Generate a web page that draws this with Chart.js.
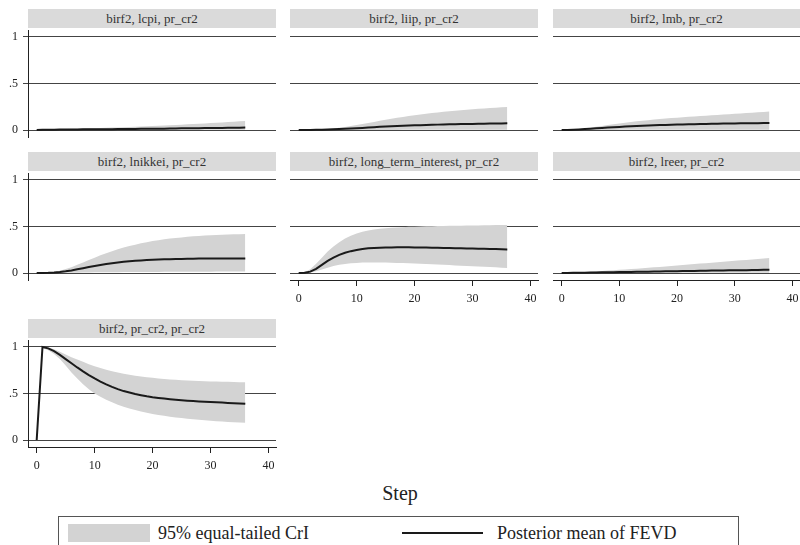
<!DOCTYPE html>
<html>
<head>
<meta charset="utf-8">
<script src="https://cdn.jsdelivr.net/npm/chart.js@4/dist/chart.umd.min.js"></script>
<style>
html,body{margin:0;padding:0;background:#fff;overflow:hidden;width:800px;height:545px}
#wrap{position:relative;width:800px;height:545px;overflow:hidden}
.hdr{position:absolute;background:#dadada;font-family:"Liberation Serif",serif;font-size:13px;color:#333;text-align:center;line-height:19px;height:19px;white-space:nowrap}
canvas{position:absolute}
#xtitle{position:absolute;left:0;width:800px;top:481px;text-align:center;font-family:"Liberation Serif",serif;font-size:20px;color:#222;line-height:24px}
#legend{position:absolute;left:58px;top:516px;width:681px;height:40px;border:1px solid #555;box-sizing:border-box}
.sw{position:absolute;left:9px;top:7px;width:82px;height:18px;background:#d3d3d3}
.ln{position:absolute;left:343px;top:15px;width:81px;height:2px;background:#1a1a1a}
.lt{position:absolute;top:5px;font-family:"Liberation Serif",serif;font-size:18px;color:#222;line-height:22px;white-space:nowrap}
</style>
</head>
<body>
<div id="wrap">
  <div id="xtitle">Step</div>
  <div id="legend">
    <div class="sw"></div><div class="lt" style="left:99px">95% equal-tailed CrI</div>
    <div class="ln"></div><div class="lt" style="left:438px">Posterior mean of FEVD</div>
  </div>
</div>
<script>
// ---------- data ----------
const steps = [0,1,2,3,4,5,6,7,8,9,10,11,12,13,14,15,16,17,18,19,20,21,22,23,24,25,26,27,28,29,30,31,32,33,34,35,36];
const xTickValues = [0,10,20,30,40];
const yTickValues = [0,0.5,1];
const yTickLabels = ["0",".5","1"];
const panelTitles = ["birf2, lcpi, pr_cr2","birf2, liip, pr_cr2","birf2, lmb, pr_cr2","birf2, lnikkei, pr_cr2","birf2, long_term_interest, pr_cr2","birf2, lreer, pr_cr2","birf2, pr_cr2, pr_cr2"];
const legendLabels = ["95% equal-tailed CrI","Posterior mean of FEVD"];

const lcpiMean = [0,0.002,0.003,0.004,0.005,0.005,0.006,0.006,0.007,0.007,0.008,0.008,0.009,0.009,0.010,0.011,0.011,0.012,0.013,0.013,0.014,0.015,0.015,0.016,0.017,0.018,0.018,0.019,0.020,0.021,0.021,0.022,0.023,0.024,0.024,0.025,0.026];
const lcpiUpper = [0,0.004,0.007,0.009,0.011,0.012,0.014,0.015,0.017,0.018,0.020,0.022,0.024,0.026,0.028,0.030,0.033,0.035,0.038,0.040,0.043,0.046,0.049,0.052,0.055,0.058,0.061,0.064,0.068,0.071,0.075,0.078,0.082,0.086,0.089,0.093,0.097];
const lcpiLower = [0,0,0,0,0,0,0,0,0,0,0,0,0,0,0.001,0.001,0.001,0.001,0.001,0.001,0.001,0.001,0.001,0.001,0.002,0.002,0.002,0.002,0.002,0.002,0.002,0.002,0.003,0.003,0.003,0.003,0.003];

const liipMean = [0,0,0.001,0.002,0.003,0.005,0.007,0.010,0.013,0.016,0.020,0.023,0.027,0.030,0.034,0.037,0.040,0.043,0.045,0.048,0.050,0.052,0.054,0.056,0.058,0.060,0.061,0.063,0.064,0.065,0.066,0.067,0.068,0.069,0.070,0.071,0.072];
const liipUpper = [0,0,0.001,0.003,0.006,0.010,0.016,0.024,0.033,0.043,0.053,0.064,0.076,0.087,0.099,0.110,0.121,0.131,0.141,0.150,0.159,0.167,0.175,0.182,0.189,0.196,0.202,0.208,0.213,0.218,0.223,0.228,0.232,0.236,0.240,0.244,0.248];
const liipLower = [0,0,0,0,0,0,0,0,0,0,0,0.001,0.001,0.001,0.001,0.001,0.001,0.001,0.002,0.002,0.002,0.002,0.002,0.002,0.002,0.002,0.003,0.003,0.003,0.003,0.003,0.003,0.003,0.003,0.003,0.003,0.003];

const lmbMean = [0,0.001,0.003,0.006,0.010,0.014,0.018,0.022,0.026,0.030,0.033,0.037,0.040,0.043,0.046,0.048,0.051,0.053,0.055,0.057,0.059,0.060,0.062,0.063,0.065,0.066,0.067,0.068,0.069,0.070,0.071,0.072,0.073,0.073,0.074,0.075,0.075];
const lmbUpper = [0,0.002,0.006,0.012,0.019,0.027,0.035,0.044,0.053,0.062,0.070,0.078,0.086,0.093,0.100,0.106,0.112,0.118,0.123,0.128,0.133,0.138,0.142,0.146,0.150,0.154,0.158,0.162,0.166,0.170,0.174,0.178,0.182,0.186,0.190,0.194,0.200];
const lmbLower = [0,0,0,0,0.001,0.001,0.001,0.001,0.001,0.001,0.002,0.002,0.002,0.002,0.002,0.002,0.002,0.002,0.002,0.003,0.003,0.003,0.003,0.003,0.003,0.003,0.003,0.003,0.003,0.003,0.003,0.003,0.003,0.003,0.003,0.003,0.003];

const lnikkeiMean = [0,0.001,0.002,0.005,0.010,0.018,0.028,0.040,0.052,0.064,0.075,0.086,0.096,0.105,0.113,0.120,0.126,0.131,0.135,0.139,0.142,0.145,0.147,0.149,0.151,0.152,0.153,0.154,0.155,0.155,0.156,0.156,0.156,0.156,0.156,0.155,0.155];
const lnikkeiUpper = [0,0.002,0.005,0.012,0.025,0.042,0.063,0.088,0.113,0.139,0.165,0.190,0.213,0.235,0.255,0.273,0.290,0.305,0.319,0.332,0.343,0.353,0.362,0.370,0.377,0.383,0.389,0.394,0.398,0.402,0.405,0.408,0.411,0.414,0.416,0.418,0.420];
const lnikkeiLower = [0,0,0,0,0.001,0.002,0.003,0.004,0.005,0.006,0.007,0.008,0.008,0.009,0.009,0.010,0.010,0.011,0.011,0.012,0.012,0.012,0.013,0.013,0.013,0.014,0.014,0.014,0.015,0.015,0.015,0.016,0.016,0.016,0.017,0.017,0.017];

const ltiMean = [0,0.003,0.015,0.045,0.088,0.130,0.165,0.195,0.218,0.235,0.248,0.258,0.265,0.269,0.272,0.274,0.275,0.276,0.276,0.276,0.275,0.274,0.273,0.272,0.271,0.270,0.268,0.267,0.266,0.264,0.263,0.261,0.260,0.258,0.257,0.255,0.254];
const ltiUpper = [0,0.006,0.040,0.100,0.165,0.230,0.285,0.330,0.370,0.400,0.425,0.443,0.457,0.467,0.475,0.481,0.486,0.490,0.493,0.496,0.498,0.500,0.502,0.503,0.505,0.506,0.507,0.508,0.509,0.510,0.511,0.512,0.513,0.514,0.515,0.516,0.517];
const ltiLower = [0,0.0005,0.005,0.018,0.038,0.058,0.075,0.088,0.098,0.105,0.109,0.112,0.113,0.113,0.113,0.112,0.111,0.109,0.107,0.105,0.102,0.100,0.097,0.094,0.091,0.088,0.085,0.082,0.079,0.076,0.073,0.070,0.067,0.064,0.061,0.058,0.055];

const lreerMean = [0,0.001,0.002,0.003,0.004,0.005,0.006,0.007,0.008,0.009,0.010,0.011,0.012,0.013,0.014,0.015,0.016,0.017,0.018,0.019,0.020,0.021,0.022,0.023,0.024,0.025,0.026,0.027,0.028,0.029,0.030,0.031,0.031,0.032,0.033,0.034,0.035];
const lreerUpper = [0,0.003,0.006,0.009,0.012,0.015,0.019,0.022,0.026,0.030,0.034,0.038,0.042,0.047,0.051,0.056,0.061,0.066,0.071,0.076,0.081,0.086,0.091,0.096,0.101,0.106,0.111,0.116,0.121,0.126,0.131,0.136,0.141,0.146,0.151,0.156,0.161];
const lreerLower = [0,0,0,0,0,0,0,0,0.001,0.001,0.001,0.001,0.001,0.001,0.001,0.001,0.002,0.002,0.002,0.002,0.002,0.002,0.002,0.002,0.003,0.003,0.003,0.003,0.003,0.003,0.003,0.003,0.004,0.004,0.004,0.004,0.004];

const prMean = [0,1.000,0.985,0.955,0.915,0.870,0.825,0.780,0.738,0.698,0.662,0.628,0.598,0.571,0.547,0.526,0.510,0.495,0.482,0.470,0.460,0.452,0.445,0.439,0.433,0.428,0.423,0.419,0.415,0.411,0.408,0.405,0.402,0.399,0.396,0.393,0.390];
const prUpper = [0,1.000,0.995,0.975,0.948,0.920,0.890,0.865,0.840,0.815,0.793,0.773,0.755,0.740,0.726,0.713,0.702,0.692,0.683,0.675,0.668,0.662,0.656,0.651,0.647,0.643,0.640,0.637,0.634,0.632,0.630,0.628,0.626,0.625,0.623,0.622,0.620];
const prLower = [0,0.990,0.965,0.925,0.870,0.800,0.725,0.660,0.600,0.545,0.500,0.465,0.433,0.405,0.380,0.358,0.339,0.322,0.307,0.293,0.281,0.270,0.260,0.251,0.243,0.236,0.229,0.223,0.217,0.212,0.207,0.203,0.199,0.195,0.191,0.188,0.185];

const seriesMean  = [lcpiMean, liipMean, lmbMean, lnikkeiMean, ltiMean, lreerMean, prMean];
const seriesUpper = [lcpiUpper, liipUpper, lmbUpper, lnikkeiUpper, ltiUpper, lreerUpper, prUpper];
const seriesLower = [lcpiLower, liipLower, lmbLower, lnikkeiLower, ltiLower, lreerLower, prLower];

// ---------- layout ----------
const colLeft = [28, 290, 553];
const colRight = [276, 538, 800];
const rowTop = [30, 173, 340];
const plotH = 107;
const yAxisW = 28, padTop = 10, padRight = 10, padBottom = 4, xAxisH = 30;
const xAxisPanels = [4, 5, 6];

Chart.defaults.font.family = '"Liberation Serif", serif';
Chart.defaults.color = '#222';

const wrap = document.getElementById('wrap');
const pts = (ys) => steps.map((s, k) => ({x: s, y: ys[k]}));
const zeroPad = (s) => { s.paddingTop = 0; s.paddingBottom = 0; s.paddingLeft = 0; s.paddingRight = 0; };

panelTitles.forEach((title, i) => {
  const col = i % 3, row = Math.floor(i / 3);
  const showX = xAxisPanels.includes(i);
  const showY = col === 0;
  const plotL = colLeft[col], plotR = colRight[col], plotT = rowTop[row];

  const h = document.createElement('div');
  h.className = 'hdr';
  h.style.left = plotL + 'px';
  h.style.width = (plotR - plotL) + 'px';
  h.style.top = (plotT - 21) + 'px';
  h.textContent = title;
  wrap.appendChild(h);

  const cv = document.createElement('canvas');
  const cw = yAxisW + (plotR - plotL) + padRight;
  const ch = padTop + plotH + (showX ? xAxisH : 0) + padBottom;
  cv.width = cw; cv.height = ch;
  cv.style.width = cw + 'px'; cv.style.height = ch + 'px';
  cv.style.left = (plotL - yAxisW) + 'px';
  cv.style.top = (plotT - padTop) + 'px';
  wrap.appendChild(cv);

  new Chart(cv, {
    type: 'line',
    data: {
      datasets: [
        {label: legendLabels[0], data: pts(seriesUpper[i]), fill: '+1', backgroundColor: '#d3d3d3', borderWidth: 0, pointRadius: 0, order: 2},
        {label: 'lower', data: pts(seriesLower[i]), fill: false, borderWidth: 0, pointRadius: 0, order: 2},
        {label: legendLabels[1], data: pts(seriesMean[i]), fill: false, borderColor: '#1a1a1a', borderWidth: 2, pointRadius: 0, order: 1}
      ]
    },
    options: {
      responsive: false, animation: false, events: [],
      devicePixelRatio: 1,
      layout: {padding: {top: padTop, right: padRight, bottom: padBottom, left: 0}},
      plugins: {legend: {display: false}, tooltip: {enabled: false}, title: {display: false}},
      scales: {
        x: {
          type: 'linear', min: -1.5, max: 41.3, display: showX,
          afterBuildTicks: s => { s.ticks = xTickValues.map(v => ({value: v})); },
          afterFit: s => { s.height = showX ? xAxisH : 0; zeroPad(s); },
          grid: {drawOnChartArea: false, drawTicks: true, tickLength: 6, color: '#222'},
          border: {display: true, color: '#222', width: 1},
          ticks: {padding: 6, maxRotation: 0, autoSkip: false, font: {size: 12}, color: '#222', callback: v => String(v)}
        },
        y: {
          type: 'linear', min: -0.075, max: 1.075,
          afterBuildTicks: s => { s.ticks = yTickValues.map(v => ({value: v})); },
          afterFit: s => { s.width = yAxisW; zeroPad(s); },
          grid: {drawOnChartArea: true, drawTicks: showY, tickLength: 5, color: '#444', lineWidth: 1},
          border: {display: showY, color: '#222', width: 1},
          ticks: {display: showY, padding: 5, font: {size: 12}, color: '#222', autoSkip: false,
                  callback: (v, idx) => yTickLabels[yTickValues.indexOf(v)]}
        }
      }
    }
  });
});
</script>
</body>
</html>
